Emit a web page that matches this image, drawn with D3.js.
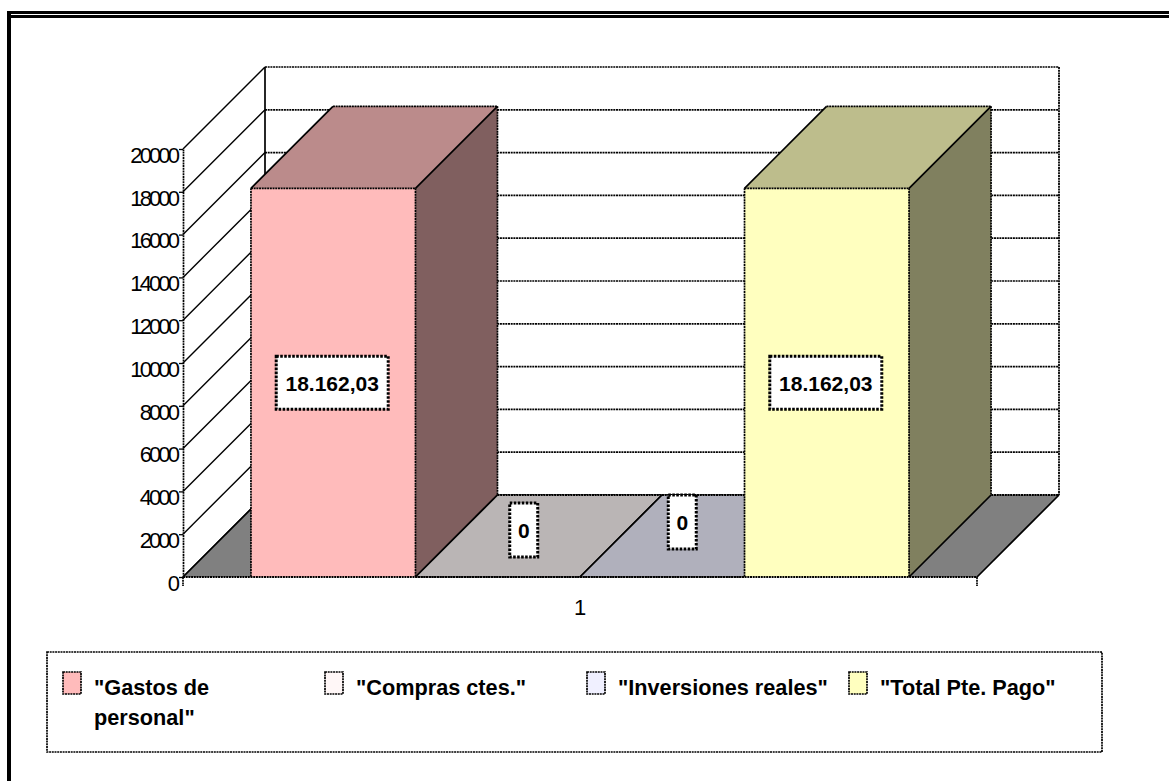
<!DOCTYPE html>
<html><head><meta charset="utf-8">
<script src="https://cdn.jsdelivr.net/npm/d3@7"></script>
<style>
html,body{margin:0;padding:0;background:#fff}
svg{display:block}
text{font-family:"Liberation Sans",Arial,sans-serif;fill:#000}
</style></head><body>
<svg id="c" width="1169" height="781"></svg>
<script>
const categories = ["1"];
const seriesNames = ['"Gastos de personal"','"Compras ctes."','"Inversiones reales"','"Total Pte. Pago"'];
const seriesValues = [18162.03, 0, 0, 18162.03];
const valueLabels = ["18.162,03","0","0","18.162,03"];
const tickValues = [0,2000,4000,6000,8000,10000,12000,14000,16000,18000,20000];
const frontColors = ["#ffbbbb","#fff7f7","#f0f0ff","#ffffbf"];
const topColors = ["#bb8b8b","#bab5b5","#b0b0bc","#bdbd8c"];
const sideColors = ["#805f5f","#807c7c","#787880","#80805f"];

const svg = d3.select("#c");
const DASH = "2 0.7";
const left=183,right=977,base=577,topY=149,depth=82;
const y = d3.scaleLinear().domain([0,20000]).range([base,topY]);
const cat = d3.scaleBand().domain(categories).range([left,right]);
const x = d3.scaleBand().domain(seriesNames).range([left,right]).paddingInner(0).paddingOuter(0.413);
const poly=(pts,fill,g)=>g.append("polygon").attr("points",pts.map(p=>p.join(",")).join(" "))
  .attr("fill",fill).attr("stroke","none");
const line=(g,x1,y1,x2,y2,dashed,w)=>g.append("line").attr("x1",x1).attr("y1",y1).attr("x2",x2).attr("y2",y2)
  .attr("stroke","#000").attr("stroke-width",w||1.5).attr("stroke-dasharray",dashed?DASH:null);

// outer frame (double rule on top, heavy rule at left)
const frame=svg.append("g");
frame.append("rect").attr("x",7).attr("y",11).attr("width",1162).attr("height",3).attr("fill","#000");
frame.append("rect").attr("x",11).attr("y",15).attr("width",1158).attr("height",3).attr("fill","#000");
frame.append("rect").attr("x",7).attr("y",11).attr("width",4).attr("height",770).attr("fill","#000");

// walls
const walls=svg.append("g");
tickValues.forEach(v=>{
  line(walls,left,y(v),left+depth,y(v)-depth,false,1.4);
  line(walls,left+depth,y(v)-depth,right+depth,y(v)-depth,true,1.7);
});
line(walls,left+depth,y(20000)-depth,left+depth,base-depth,false,1.7);
line(walls,right+depth,y(20000)-depth,right+depth,base-depth,true,1.8);

// floor
const floor=svg.append("g");
poly([[left,base],[left+depth,base-depth],[right+depth,base-depth],[right,base]],"#808080",floor);
line(floor,left,base,left+depth,base-depth,false,1.7);
line(floor,left+depth,base-depth,right+depth,base-depth,true,1.8);
line(floor,right+depth,base-depth,right,base,false,1.7);

// bars
const bars=svg.append("g");
seriesNames.forEach((s,i)=>{
  const x0=x(s),x1=x0+x.bandwidth(),yt=y(seriesValues[i]);
  const g=bars.append("g");
  if(seriesValues[i]>0){
    poly([[x0,base],[x1,base],[x1,yt],[x0,yt]],frontColors[i],g);
    poly([[x1,base],[x1+depth,base-depth],[x1+depth,yt-depth],[x1,yt]],sideColors[i],g);
  }
  poly([[x0,yt],[x1,yt],[x1+depth,yt-depth],[x0+depth,yt-depth]],topColors[i],g);
  line(g,x0,yt,x0+depth,yt-depth,false,1.7);
  line(g,x1,yt,x1+depth,yt-depth,false,1.7);
  line(g,x0+depth,yt-depth,x1+depth,yt-depth,true,1.8);
  line(g,x0,yt,x1,yt,true,1.8);
  if(seriesValues[i]>0){
    line(g,x0,yt,x0,base,true,1.7);
    line(g,x1,yt,x1,base,true,1.7);
    line(g,x1+depth,yt-depth,x1+depth,base-depth,true,1.7);
    line(g,x1,base,x1+depth,base-depth,false,1.7);
  }
});
line(svg,left,base,right,base,true,1.8);

// axes
const yAxis=svg.append("g").attr("transform",`translate(${left},0)`)
  .call(d3.axisLeft(y).tickValues(tickValues).tickFormat(d3.format("d")).tickSize(4).tickSizeOuter(0).tickPadding(2));
yAxis.select(".domain").attr("stroke","#000").attr("stroke-width",1.7).attr("stroke-dasharray",DASH);
yAxis.selectAll(".tick line").attr("stroke","#000").attr("stroke-width",1.3);
yAxis.selectAll("text").attr("font-size",22).attr("letter-spacing",-2.9).attr("dy","0.6em")
  .style("font-family",'"Liberation Sans",Arial,sans-serif');
line(svg,left,base,left,base+9,true,1.7);
line(svg,right,base,right,base+9,true,1.7);
const xAxis=svg.append("g").attr("transform",`translate(0,${base})`)
  .call(d3.axisBottom(cat).tickSize(0).tickPadding(22));
xAxis.select(".domain").remove();
xAxis.selectAll("text").attr("font-size",22).style("font-family",'"Liberation Sans",Arial,sans-serif');

// data labels
const labelOffsets=[[-1,0],[26,-7],[20,-15],[-1,0]];
const labels=svg.append("g");
seriesNames.forEach((s,i)=>{
  const cx=x(s)+x.bandwidth()/2+labelOffsets[i][0];
  const cy=(y(seriesValues[i])+base)/2+(seriesValues[i]>0?0:-40)+labelOffsets[i][1];
  const bw=seriesValues[i]>0?112:28,bh=seriesValues[i]>0?53:54;
  labels.append("rect").attr("x",cx-bw/2).attr("y",cy-bh/2).attr("width",bw).attr("height",bh)
    .attr("fill","#fff").attr("stroke","#000").attr("stroke-width",3).attr("stroke-dasharray","2.6 1.4");
  labels.append("text").attr("x",cx).attr("y",cy+8).attr("text-anchor","middle")
    .attr("font-size",21).attr("font-weight","bold").text(valueLabels[i]);
});

// legend
const lg=svg.append("g");
lg.append("rect").attr("x",47).attr("y",652).attr("width",1055).attr("height",100)
  .attr("fill","#fff").attr("stroke","#000").attr("stroke-width",1.7).attr("stroke-dasharray",DASH);
const legendX=d3.scalePoint().domain(seriesNames).range([63,849]);
seriesNames.forEach((s,i)=>{
  const lx=legendX(s);
  lg.append("rect").attr("x",lx).attr("y",672).attr("width",18).attr("height",22)
    .attr("fill",frontColors[i]).attr("stroke","#000").attr("stroke-width",1.7).attr("stroke-dasharray",DASH);
  const t=lg.append("text").attr("x",lx+31).attr("y",695).attr("font-size",21.7).attr("font-weight","bold");
  const words=i===0?['"Gastos de','personal"']:[s];
  words.forEach((w,k)=>t.append("tspan").attr("x",lx+31).attr("dy",k?30:0).text(w));
});
</script></body></html>
